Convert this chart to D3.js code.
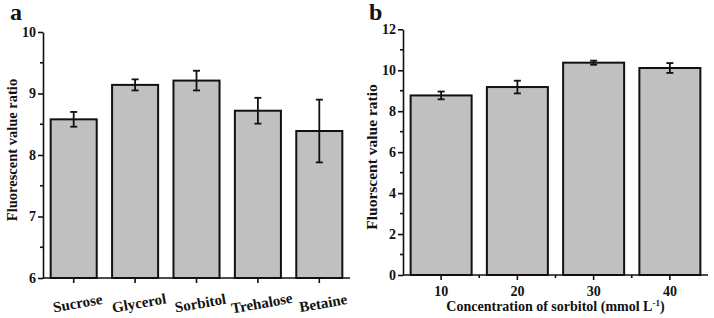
<!DOCTYPE html>
<html>
<head>
<meta charset="utf-8">
<script src="https://cdn.jsdelivr.net/npm/d3@7"></script>
<style>
  body { margin: 0; background: #fff; }
  svg text { font-family: "Liberation Serif", "Times New Roman", serif; font-weight: bold; fill: #111; }
  .axis path, .axis line { stroke: #111; stroke-width: 1.6; }
</style>
</head>
<body>
<div class="chart"></div>
<script>
//Panel a data
var solutes = ["Sucrose", "Glycerol", "Sorbitol", "Trehalose", "Betaine"];
var soluteRatio = [8.58, 9.14, 9.21, 8.72, 8.39];
var soluteErr = [0.12, 0.09, 0.16, 0.21, 0.51];
var aTicks = [6, 7, 8, 9, 10];
var aMinor = [6.5, 7.5, 8.5, 9.5];

//Panel b data
var concs = ["10", "20", "30", "40"];
var concRatio = [8.77, 9.18, 10.37, 10.11];
var concErr = [0.19, 0.31, 0.1, 0.24];
var bTicks = [0, 2, 4, 6, 8, 10, 12];
var bMinor = [1, 3, 5, 7, 9, 11];

var width = 714, height = 318;

var svg = d3.select(".chart")
            .append("svg")
            .attr("width", width)
            .attr("height", height);

//panel a scales
var xa = d3.scaleBand().domain(solutes).range([43, 350]).paddingInner(0.25).paddingOuter(0.125);
var ya = d3.scaleLinear().domain([6, 10]).range([278, 32]);

//panel b scales
var xb = d3.scaleBand().domain(concs).range([403, 708]).paddingInner(0.2).paddingOuter(0.1);
var yb = d3.scaleLinear().domain([0, 12]).range([275, 29.3]);

drawPanel({
    x: xa, y: ya, cats: solutes, vals: soluteRatio, errs: soluteErr,
    ticks: aTicks, minor: aMinor, base: 6,
    letter: "a", letterX: 10, ytitle: "Fluorescent value ratio", ytitleX: 17, ytitleY: 150, ytitleSize: 14.5,
    rotateLabels: true, betweenTicks: false
});
drawPanel({
    x: xb, y: yb, cats: concs, vals: concRatio, errs: concErr,
    ticks: bTicks, minor: bMinor, base: 0,
    letter: "b", letterX: 369, ytitle: "Fluorscent value ratio", ytitleX: 377, ytitleY: 157, ytitleSize: 15.5,
    rotateLabels: false, betweenTicks: true
});

function drawPanel(p){
    var x = p.x, y = p.y;
    var x0 = x.range()[0], x1 = x.range()[1];
    var g = svg.append("g");

    //bars
    g.selectAll("rect.bar")
        .data(p.cats)
        .enter()
        .append("rect")
        .attr("class", "bar")
        .attr("x", function(d){ return x(d); })
        .attr("width", x.bandwidth())
        .attr("y", function(d, i){ return y(p.vals[i]); })
        .attr("height", function(d, i){ return y(p.base) - y(p.vals[i]); })
        .attr("fill", "#c0c0c0")
        .attr("stroke", "#111")
        .attr("stroke-width", 2);

    //error bars
    var eb = g.selectAll("g.err")
        .data(p.cats)
        .enter()
        .append("g")
        .attr("class", "err")
        .attr("stroke", "#111")
        .attr("stroke-width", 1.8);
    var cx = function(d){ return x(d) + x.bandwidth() / 2; };
    eb.append("line")
        .attr("x1", cx).attr("x2", cx)
        .attr("y1", function(d, i){ return y(p.vals[i] + p.errs[i]); })
        .attr("y2", function(d, i){ return y(p.vals[i] - p.errs[i]); });
    [1, -1].forEach(function(s){
        eb.append("line")
            .attr("x1", function(d){ return cx(d) - 3.5; })
            .attr("x2", function(d){ return cx(d) + 3.5; })
            .attr("y1", function(d, i){ return y(p.vals[i] + s * p.errs[i]); })
            .attr("y2", function(d, i){ return y(p.vals[i] + s * p.errs[i]); });
    });

    //y axis
    var yAxis = g.append("g")
        .attr("class", "axis")
        .attr("transform", "translate(" + x0 + ",0)")
        .call(d3.axisLeft(y).tickValues(p.ticks).tickFormat(d3.format("d")).tickSize(5).tickSizeOuter(0));
    yAxis.selectAll("text").attr("font-size", 14).attr("x", -7);
    yAxis.selectAll(".minor")
        .data(p.minor)
        .enter()
        .append("line")
        .attr("class", "minor")
        .attr("x1", -3).attr("x2", 0)
        .attr("y1", function(d){ return y(d); })
        .attr("y2", function(d){ return y(d); });

    //x axis
    var xAxis = g.append("g")
        .attr("class", "axis")
        .attr("transform", "translate(0," + y(p.base) + ")")
        .call(d3.axisBottom(x).tickSize(5).tickSizeOuter(0).tickPadding(6));
    xAxis.select(".domain").attr("d", "M" + x0 + ",0H" + x1);
    xAxis.selectAll("text").attr("font-size", 14);
    if(p.rotateLabels){
        //slanted labels like the original
        xAxis.selectAll(".tick text")
            .attr("font-size", 15)
            .attr("dy", "1.1em")
            .style("text-anchor", "middle")
            .attr("transform", "translate(0,3) rotate(-10)");
    }
    if(p.betweenTicks){
        xAxis.selectAll(".minor")
            .data(p.cats.slice(1))
            .enter()
            .append("line")
            .attr("class", "minor")
            .attr("x1", function(d){ return x(d) - x.step() * x.paddingInner() / 2; })
            .attr("x2", function(d){ return x(d) - x.step() * x.paddingInner() / 2; })
            .attr("y1", 0).attr("y2", 3);
    }

    //y title
    g.append("text")
        .attr("transform", "translate(" + p.ytitleX + "," + p.ytitleY + ") rotate(-90)")
        .attr("text-anchor", "middle")
        .attr("font-size", p.ytitleSize)
        .text(p.ytitle);

    //panel letter
    g.append("text")
        .attr("x", p.letterX)
        .attr("y", 20)
        .attr("font-size", 24)
        .text(p.letter);
}

//x title of panel b with superscript
var xt = svg.append("text")
    .attr("x", (xb.range()[0] + xb.range()[1]) / 2)
    .attr("y", 311)
    .attr("text-anchor", "middle")
    .attr("font-size", 14);
xt.append("tspan").text("Concentration of sorbitol (mmol L");
xt.append("tspan").attr("dy", -5).attr("font-size", 9).text("-1");
xt.append("tspan").attr("dy", 5).text(")");
</script>
</body>
</html>
